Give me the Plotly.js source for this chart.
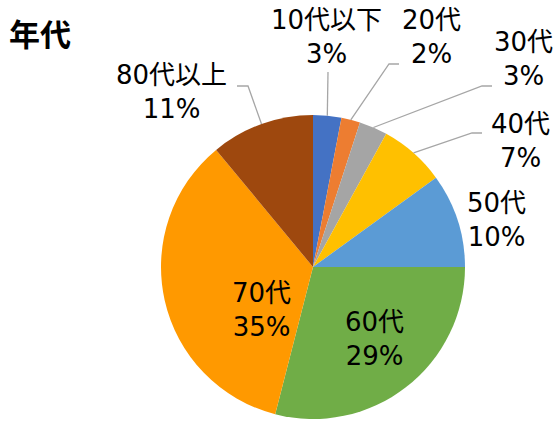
<!DOCTYPE html>
<html><head><meta charset="utf-8">
<script src="https://cdn.plot.ly/plotly-3.0.1.min.js"></script>
<style>html,body{margin:0;padding:0;background:#fff}#chart{width:558px;height:423px}</style>
</head><body><div id="chart"></div>
<script>
const categories = ['10代以下','20代','30代','40代','50代','60代','70代','80代以上'];
const values = [3, 2, 3, 7, 10, 29, 35, 11];
const colors = ['#4472C4','#ED7D31','#A5A5A5','#FFC000','#5B9BD5','#70AD47','#FF9900','#9E480E'];
const titleText = '年代';

const W = 558, H = 423;
const cx = 313, cy = 267, R = 152;
const px = x => x / W;
const py = y => 1 - y / H;
const FONT = "'DejaVu Sans', 'Noto Sans CJK JP', sans-serif";

// label centres (px) and leader elbows (null = inside label)
const labelPos = [[326,37],[431,37],[523,59],[520,141],[496,220],[374,339],[261,310],[171,92]];
const elbows = [[[328,72]],[[399,64],[389,64]],[[492,86],[482,86]],[[482,133],[472,133]],null,null,null,[[237,86],[248,86]]];

const total = values.reduce((a,b)=>a+b,0);
let cum = 0;
const annotations = [{
  text: '<b>' + titleText + '</b>', xref:'paper', yref:'paper', x: px(7), y: py(32),
  xanchor:'left', yanchor:'middle', showarrow:false,
  font:{family:'Noto Sans CJK JP', size:31, color:'#000'}
}];
const shapes = [];
values.forEach((v,i) => {
  const mid = (cum + v/2) / total * 2 * Math.PI;
  cum += v;
  annotations.push({
    text: categories[i] + '<br>' + v + '%',
    xref:'paper', yref:'paper', x: px(labelPos[i][0]), y: py(labelPos[i][1]),
    xanchor:'center', yanchor:'middle', showarrow:false, align:'center',
    font:{family:FONT, size:26, color:'#000'}
  });
  if (elbows[i]) {
    const ex = cx + R * Math.sin(mid), ey = cy - R * Math.cos(mid);
    const pts = elbows[i].concat([[ex, ey]]);
    let path = 'M ' + px(pts[0][0]) + ' ' + py(pts[0][1]);
    for (let k = 1; k < pts.length; k++) path += ' L ' + px(pts[k][0]) + ' ' + py(pts[k][1]);
    shapes.push({type:'path', xref:'paper', yref:'paper', path: path, line:{color:'#A6A6A6', width:1.3}});
  }
});

const data = [{
  type:'pie', labels: categories, values: values, sort:false, direction:'clockwise', rotation:0,
  marker:{colors: colors, line:{width:0}}, textinfo:'none', hoverinfo:'none',
  domain:{x:[(cx-R)/W, (cx+R)/W], y:[(H-cy-R)/H, (H-cy+R)/H]}
}];
const layout = {
  width: W, height: H, margin:{l:0,r:0,t:0,b:0}, showlegend:false,
  paper_bgcolor:'#fff', annotations: annotations, shapes: shapes
};
Plotly.newPlot('chart', data, layout, {displayModeBar:false, staticPlot:true});
</script></body></html>
